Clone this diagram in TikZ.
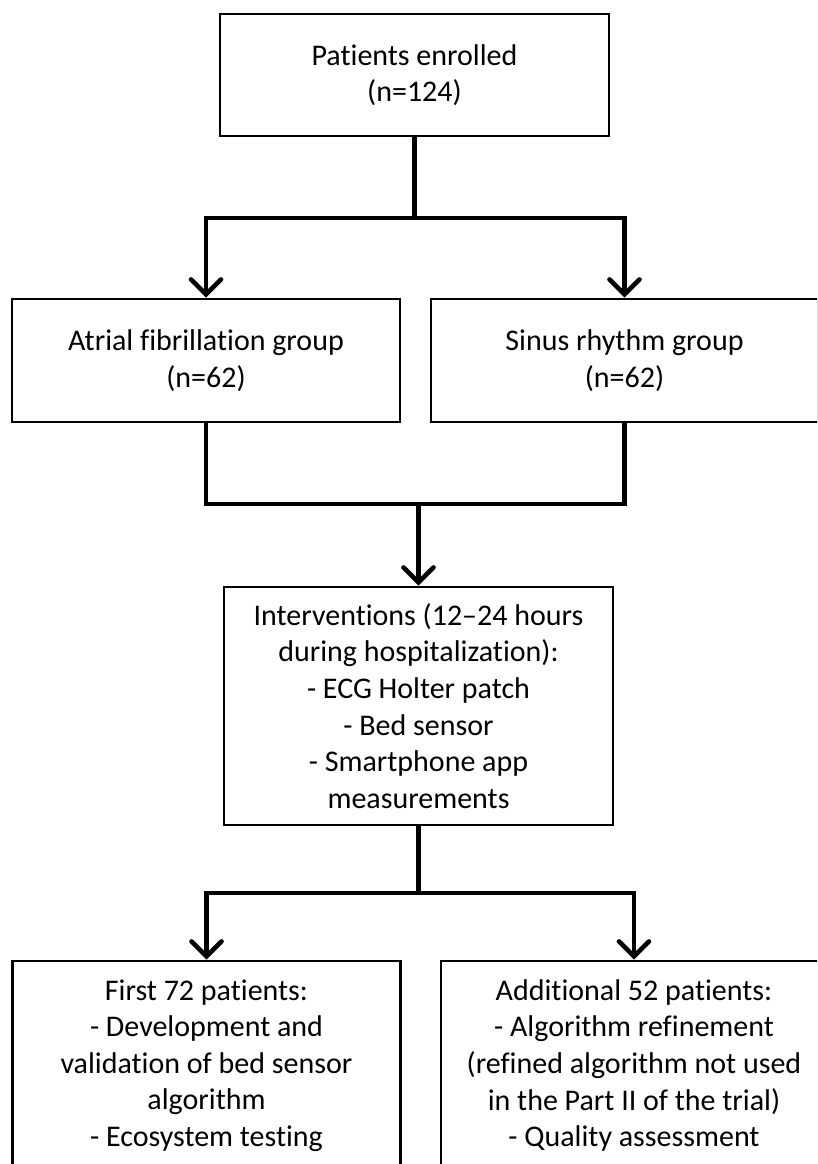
\documentclass[tikz,border=0pt]{standalone}
\usepackage{fontspec}
\setmainfont{Carlito}[Ligatures={TeX,NoCommon}]
\usetikzlibrary{arrows.meta}
\begin{document}
\begin{tikzpicture}[x=1pt,y=-1pt,
  box/.style={draw=black,line width=2.6pt,rectangle,inner sep=0pt,align=center,
    font=\fontsize{30pt}{36.6pt}\selectfont},
  conn/.style={draw=black,line width=4.6pt,line join=miter},
  arr/.style={conn,-{Straight Barb[length=15pt,width=30pt,line cap=round,line join=miter]}}]
\useasboundingbox (0,0) rectangle (817,1164);
\clip (0,0) rectangle (817,1164);
\fill[white] (0,0) rectangle (817,1164);
\node[box,minimum width=389pt,minimum height=122pt] (top) at (414.5,75) {Patients enrolled\\(n=124)};
\node[box,minimum width=388pt,minimum height=123pt] (af) at (206,360.5) {Atrial fibrillation group\\(n=62)};
\node[box,minimum width=387pt,minimum height=123pt] (sr) at (624.5,360.5) {Sinus rhythm group\\(n=62)};
\node[box,minimum width=389pt,minimum height=238pt] (int) at (418.5,706) {Interventions (12–24 hours\\during hospitalization):\\- ECG Holter patch\\- Bed sensor\\- Smartphone app\\measurements};
\node[box,minimum width=388pt,minimum height=209pt] (bl) at (206.5,1065.5) {First 72 patients:\\- Development and\\validation of bed sensor\\algorithm\\- Ecosystem testing};
\node[box,minimum width=386pt,minimum height=209pt] (br) at (634,1065.5) {Additional 52 patients:\\- Algorithm refinement\\(refined algorithm not used\\in the Part II of the trial)\\- Quality assessment};
\coordinate (j1) at (414.5,218);
\coordinate (j2) at (418.5,504);
\coordinate (j3) at (418.5,893);
\draw[conn] (top.south) -- (j1);
\draw[arr] (j1) -| (af.north);
\draw[arr] (j1) -| (sr.north);
\draw[conn] (af.south) |- (j2);
\draw[conn] (sr.south) |- (j2);
\draw[arr] (j2) -- (int.north);
\draw[conn] (int.south) -- (j3);
\draw[arr] (j3) -| (bl.north);
\draw[arr] (j3) -| (br.north);
\end{tikzpicture}
\end{document}
